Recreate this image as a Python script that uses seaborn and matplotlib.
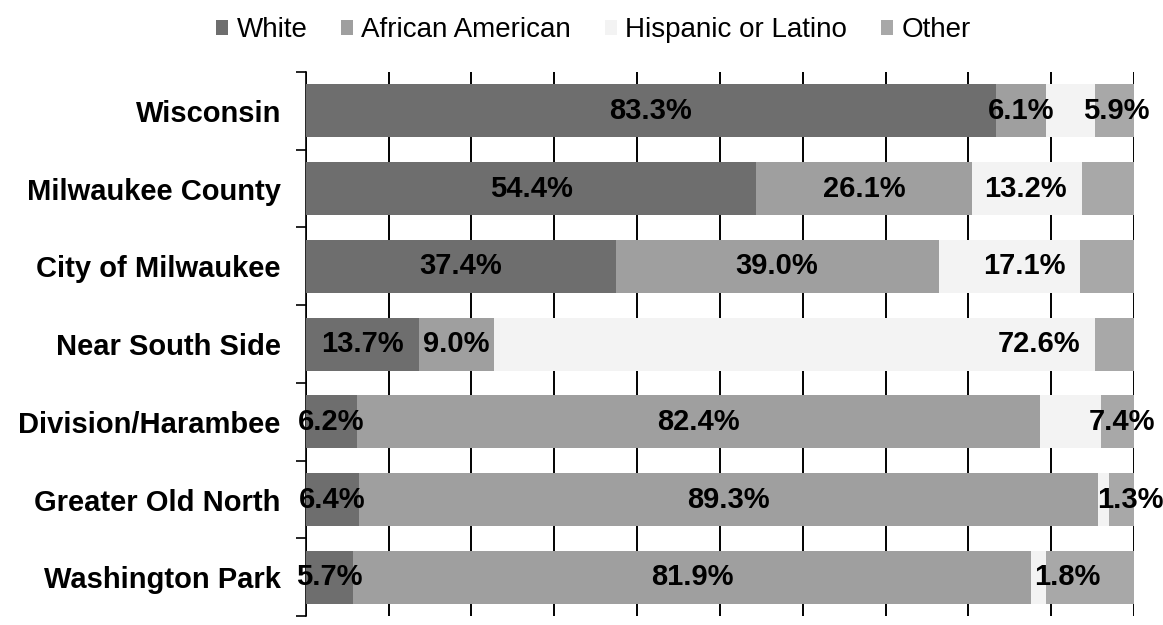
import numpy as np
import pandas as pd
import seaborn as sns
import matplotlib
matplotlib.use("Agg")
import matplotlib.pyplot as plt
from matplotlib.patches import Patch

# datos (porcentaje de poblacion por grupo)
areas = ["Wisconsin", "Milwaukee County", "City of Milwaukee", "Near South Side",
         "Division/Harambee", "Greater Old North", "Washington Park"]
white = [83.3, 54.4, 37.4, 13.7, 6.2, 6.4, 5.7]
african_american = [6.1, 26.1, 39.0, 9.0, 82.4, 89.3, 81.9]
hispanic = [5.9, 13.2, 17.1, 72.6, 7.4, 1.3, 1.8]
other = [4.7, 6.3, 6.5, 4.7, 4.0, 3.0, 10.6]

groups = ["White", "African American", "Hispanic or Latino", "Other"]
colors = ["#6e6e6e", "#9f9f9f", "#f3f3f3", "#a8a8a8"]


def main() -> None:
    sns.set_theme(style="white")
    plt.rcParams["font.family"] = ["Liberation Sans", "DejaVu Sans"]
    plt.rcParams["text.color"] = "black"
    plt.rcParams["ytick.color"] = "black"

    df = pd.DataFrame({"area": areas, "White": white, "African American": african_american,
                       "Hispanic or Latino": hispanic, "Other": other})
    cum = df[groups].cumsum(axis=1)

    fig = plt.figure(figsize=(11.63, 6.25), dpi=100)
    ax = fig.add_axes([0.263, 0.014, 0.712, 0.871])

    # barras apiladas: se dibuja el acumulado de mayor a menor, cada una tapa a la anterior
    for g, c in zip(groups[::-1], colors[::-1]):
        sns.barplot(x=cum[g], y=df["area"], color=c, orient="h", width=0.68,
                    saturation=1, ax=ax, zorder=3, linewidth=0)

    ax.set_xlim(0, 100)
    ax.set_ylim(len(areas) - 0.5, -0.5)
    ax.set_xticks(np.arange(0, 101, 10))
    ax.set_xticklabels([])
    ax.tick_params(axis="x", length=0)
    ax.grid(axis="x", color="black", linewidth=1.4, zorder=0)
    ax.grid(axis="y", visible=False)
    ax.set_axisbelow(True)
    ax.set_xlabel("")
    ax.set_ylabel("")

    for s in ["top", "right", "bottom"]:
        ax.spines[s].set_visible(False)
    ax.spines["left"].set_color("black")
    ax.spines["left"].set_linewidth(1.2)

    ax.set_yticks(range(len(areas)))
    ax.set_yticklabels(areas, fontsize=21, fontweight="bold", color="black")
    ax.tick_params(axis="y", length=0, pad=18)
    ax.set_yticks(np.arange(-0.5, len(areas), 1), minor=True)
    ax.tick_params(axis="y", which="minor", left=True, length=7, width=1.2,
                   color="black", direction="out")

    # etiquetas de datos
    for i in range(len(areas)):
        for g in ["White", "African American"]:
            v = df[g][i]
            x = cum[g][i] - v / 2
            ax.text(x, i, f"{v:.1f}%", ha="center", va="center", fontsize=21,
                    fontweight="bold", color="black", zorder=5)
        v = df["Hispanic or Latino"][i]
        end = cum["Hispanic or Latino"][i]
        if v < 10:
            ax.text(end - 1.5, i, f"{v:.1f}%", ha="left", va="center", fontsize=21,
                    fontweight="bold", color="black", zorder=5)
        else:
            ax.text(end - 1.8, i, f"{v:.1f}%", ha="right", va="center", fontsize=21,
                    fontweight="bold", color="black", zorder=5)

    handles = [Patch(facecolor=c, edgecolor="none") for c in colors]
    fig.legend(handles, groups, loc="center", bbox_to_anchor=(0.51, 0.952), ncol=4,
               frameon=False, fontsize=20, handlelength=0.45, handleheight=0.45,
               handletextpad=0.3, columnspacing=1.2, labelcolor="black")

    fig.savefig("out.png", dpi=100)


if __name__ == "__main__":
    main()
